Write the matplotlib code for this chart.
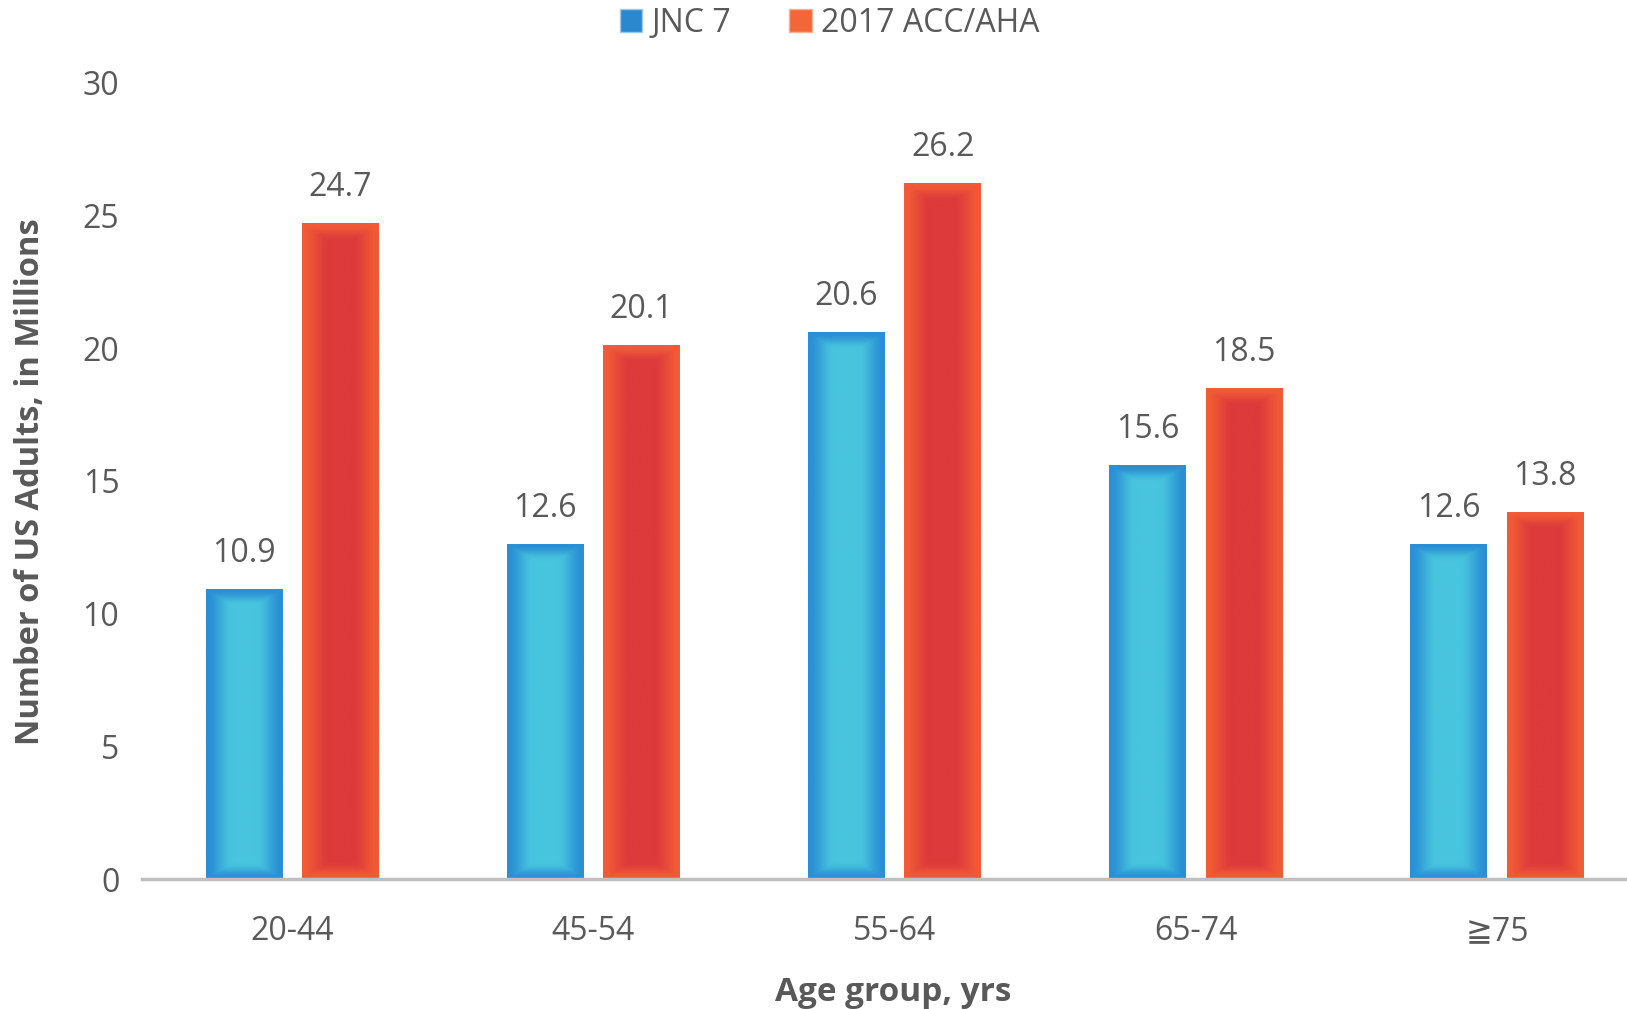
import numpy as np
import matplotlib.pyplot as plt
from matplotlib.colors import to_rgb
from matplotlib.patches import Patch

plt.rcParams['font.family'] = ['Open Sans', 'Noto Sans', 'DejaVu Sans']

# hypertension counts by age group (millions of US adults)
age_groups = ['20-44', '45-54', '55-64', '65-74', '≧75']
jnc7 = [10.9, 12.6, 20.6, 15.6, 12.6]
acc_aha = [24.7, 20.1, 26.2, 18.5, 13.8]
series_names = ['JNC 7', '2017 ACC/AHA']

text_gray = '#595959'
blue_edge, blue_mid = '#2a8fd4', '#48c5de'
red_edge, red_mid = '#f25b36', '#dc3a3b'

fig = plt.figure(figsize=(16.27, 10.09), dpi=100)
ax = fig.add_axes([0.087, 0.1288, 0.9256, 0.789])

x = np.arange(len(age_groups))
w = 0.255
off = 0.16
bars_b = ax.bar(x - off, jnc7, w, color=blue_mid, edgecolor='white', linewidth=1.5, zorder=2)
bars_r = ax.bar(x + off, acc_aha, w, color=red_mid, edgecolor='white', linewidth=1.5, zorder=2)


def shade(bar, c_edge, c_mid):
    # paint a soft edge-to-centre gradient over the bar
    x0, y0 = bar.get_x(), bar.get_y()
    bw, bh = bar.get_width(), bar.get_height()
    nx, ny = 60, 200
    u = np.linspace(0, 1, nx)
    hx = np.clip(np.minimum(u, 1 - u) * 2 / 0.7, 0, 1)
    yy = np.linspace(0, bh, ny)
    vy = np.clip(np.minimum(yy, bh - yy) / 0.6, 0, 1)
    t = np.minimum(hx[None, :], vy[:, None])
    t = t * t * (3 - 2 * t)
    ce, cm = np.array(to_rgb(c_edge)), np.array(to_rgb(c_mid))
    img = ce + (cm - ce) * t[..., None]
    ax.imshow(img, extent=[x0, x0 + bw, y0, y0 + bh], origin='lower',
              aspect='auto', interpolation='bilinear', zorder=3)


for b in bars_b:
    shade(b, blue_edge, blue_mid)
for b in bars_r:
    shade(b, red_edge, red_mid)

# value labels
for bars, vals in [(bars_b, jnc7), (bars_r, acc_aha)]:
    for b, v in zip(bars, vals):
        ax.annotate(f'{v:.1f}', (b.get_x() + b.get_width() / 2, v),
                    xytext=(0, 14), textcoords='offset points',
                    ha='center', va='bottom', fontsize=23, color=text_gray)

ax.set_xlim(-0.5, 4.5)
ax.set_ylim(0, 30)
ax.set_yticks(range(0, 31, 5))
ax.set_xticks(x)
ax.set_xticklabels(age_groups)
ax.tick_params(axis='both', length=0, labelsize=23, labelcolor=text_gray)
ax.tick_params(axis='y', pad=16)
ax.tick_params(axis='x', pad=26)
for s in ['top', 'right', 'left']:
    ax.spines[s].set_visible(False)
ax.spines['bottom'].set_color('#bfbfbf')
ax.spines['bottom'].set_linewidth(2.5)
ax.spines['bottom'].set_zorder(4)

fig.text(0.549, 0.016, 'Age group, yrs', ha='center', va='center',
         fontsize=24, fontweight='bold', color=text_gray)
fig.text(0.019, 0.523, 'Number of US Adults, in Millions', ha='center', va='center',
         rotation=90, fontsize=23.5, fontweight='bold', color=text_gray)

handles = [Patch(facecolor='#2b88cf', edgecolor='#9cc8ea', linewidth=1),
           Patch(facecolor='#f2663a', edgecolor='#f7b195', linewidth=1)]
fig.legend(handles, series_names, loc='center', bbox_to_anchor=(0.51, 0.977), ncol=2,
           frameon=False, fontsize=23, labelcolor=text_gray, handlelength=0.7,
           handleheight=0.7, handletextpad=0.3, columnspacing=1.8)

fig.savefig('out.png', dpi=100, facecolor='white')
